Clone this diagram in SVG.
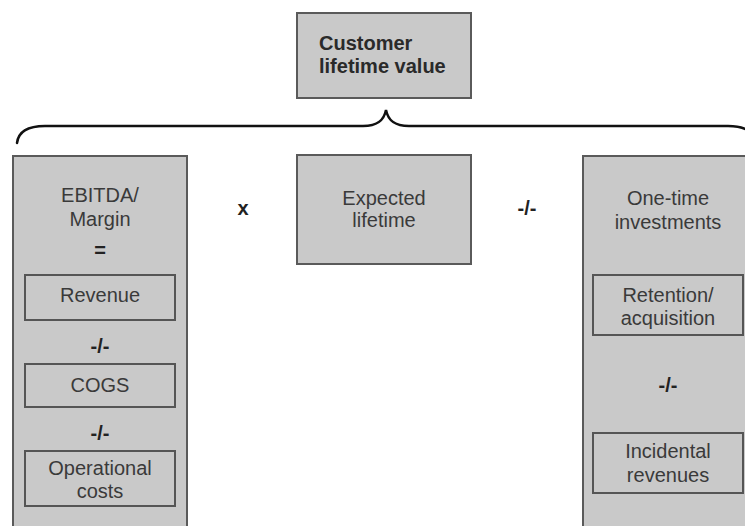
<svg xmlns="http://www.w3.org/2000/svg" width="745" height="526" viewBox="0 0 745 526">
  <style>
    .box { fill: #c9c9c9; stroke: #5a5a5a; stroke-width: 2; }
    .inner { fill: #c9c9c9; stroke: #555; stroke-width: 2; }
    .lbl { font-family: "Liberation Sans", Arial, sans-serif; font-size: 20px; fill: #3a3a3a; text-anchor: middle; }
    .op { font-family: "Liberation Sans", Arial, sans-serif; font-size: 20px; font-weight: bold; fill: #222; text-anchor: middle; }
    .title { font-family: "Liberation Sans", Arial, sans-serif; font-size: 20px; font-weight: bold; fill: #2a2a2a; }
    .brace { fill: none; stroke: #111; stroke-width: 2.5; stroke-linecap: round; }
  </style>
  <rect width="745" height="526" fill="#ffffff"/>

  <!-- total -->
  <g id="clv">
    <rect class="box" x="297" y="13" width="174" height="85"/>
    <text class="title" x="319" y="50">Customer</text>
    <text class="title" x="319" y="73">lifetime value</text>
  </g>

  <!-- curly brace grouping the three terms -->
  <g id="connectors">
    <path class="brace" d="M17,143 Q19,126 45,126 L363,126 C378,126 384,120 386,110 C388,120 394,126 409,126 L728,126 Q753,126 756,143"/>
  </g>

  <!-- margin term -->
  <g id="margin">
    <rect class="box" x="13" y="156" width="174" height="380"/>
    <text class="lbl" x="100" y="202">EBITDA/</text>
    <text class="lbl" x="100" y="226">Margin</text>
    <text class="op" x="100" y="257">=</text>
  </g>
  <g id="revenue">
    <rect class="inner" x="25" y="275" width="150" height="45"/>
    <text class="lbl" x="100" y="302">Revenue</text>
  </g>
  <text class="op" x="100" y="353">-/-</text>
  <g id="cogs">
    <rect class="inner" x="25" y="364" width="150" height="43"/>
    <text class="lbl" x="100" y="392">COGS</text>
  </g>
  <text class="op" x="100" y="440">-/-</text>
  <g id="opcosts">
    <rect class="inner" x="25" y="451" width="150" height="55"/>
    <text class="lbl" x="100" y="475">Operational</text>
    <text class="lbl" x="100" y="498">costs</text>
  </g>

  <text class="op" x="243" y="215">x</text>

  <!-- lifetime term -->
  <g id="lifetime">
    <rect class="box" x="297" y="155" width="174" height="109"/>
    <text class="lbl" x="384" y="205">Expected</text>
    <text class="lbl" x="384" y="227">lifetime</text>
  </g>

  <text class="op" x="527" y="215">-/-</text>

  <!-- one-time investments term -->
  <g id="onetime">
    <rect class="box" x="583" y="156" width="180" height="380"/>
    <text class="lbl" x="668" y="205">One-time</text>
    <text class="lbl" x="668" y="229">investments</text>
  </g>
  <g id="retention">
    <rect class="inner" x="593" y="275" width="150" height="60"/>
    <text class="lbl" x="668" y="302">Retention/</text>
    <text class="lbl" x="668" y="325">acquisition</text>
  </g>
  <text class="op" x="668" y="392">-/-</text>
  <g id="incidental">
    <rect class="inner" x="593" y="433" width="150" height="60"/>
    <text class="lbl" x="668" y="458">Incidental</text>
    <text class="lbl" x="668" y="482">revenues</text>
  </g>
</svg>
